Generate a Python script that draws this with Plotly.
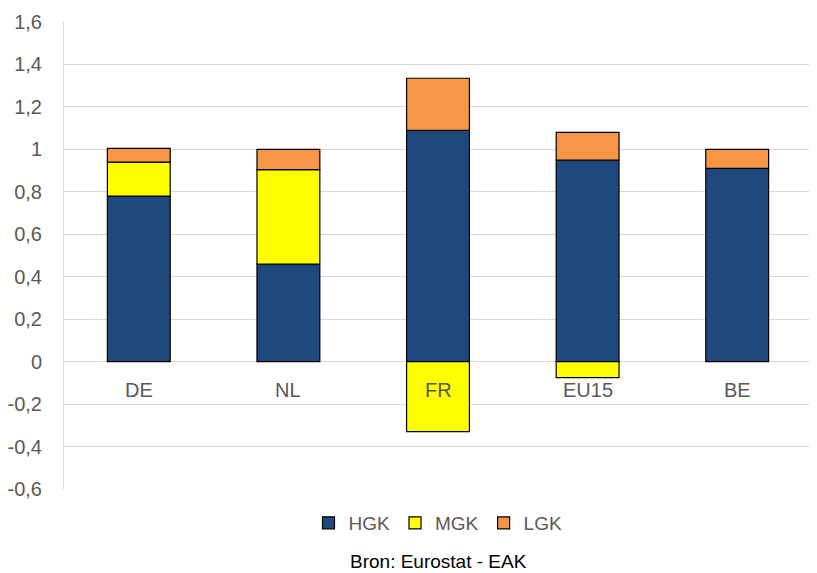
import plotly.graph_objects as go

categories = ["DE", "NL", "FR", "EU15", "BE"]
hgk = [0.78, 0.46, 1.09, 0.95, 0.91]
mgk = [0.16, 0.445, -0.33, -0.075, 0.0]
lgk = [0.065, 0.095, 0.245, 0.13, 0.09]
y_ticks = [-0.6, -0.4, -0.2, 0, 0.2, 0.4, 0.6, 0.8, 1, 1.2, 1.4, 1.6]
y_tick_labels = ["-0,6", "-0,4", "-0,2", "0", "0,2", "0,4", "0,6", "0,8", "1", "1,2", "1,4", "1,6"]

font_family = "Liberation Sans, Arial, sans-serif"
grey = "#595959"

fig = go.Figure()
for name, vals, col in [("HGK", hgk, "#1F497D"), ("MGK", mgk, "#FFFF00"), ("LGK", lgk, "#F79646")]:
    fig.add_trace(go.Bar(x=categories, y=vals, name=name, marker_color=col,
                         marker_line_color="#000000", marker_line_width=1.2, width=0.42))

for c in categories:
    fig.add_annotation(x=c, y=0, yref="y", xref="x", text=c, showarrow=False,
                       yshift=-28, font=dict(family=font_family, size=20, color=grey))

fig.add_annotation(x=0.5, xref="paper", y=-0.156, yref="paper", yanchor="middle",
                   text="Bron: Eurostat - EAK",
                   showarrow=False, font=dict(family=font_family, size=19, color="#000000"))

fig.update_layout(
    barmode="relative",
    width=817, height=573,
    margin=dict(l=56, r=13, t=14, b=92),
    paper_bgcolor="white", plot_bgcolor="white",
    separators=",.",
    font=dict(family=font_family, size=19, color=grey),
    legend=dict(orientation="h", x=0.5, xanchor="center", y=-0.032, yanchor="top",
                font=dict(size=19, color=grey), itemwidth=30, traceorder="normal"),
    xaxis=dict(showticklabels=False, showline=False, showgrid=False, zeroline=False,
               automargin=False),
    yaxis=dict(range=[-0.6, 1.6], tickvals=y_ticks, ticktext=y_tick_labels,
               showgrid=True, automargin=False,
               gridcolor="#D9D9D9", gridwidth=1, zeroline=True, zerolinecolor="#D9D9D9",
               zerolinewidth=1, showline=True, linecolor="#D9D9D9", linewidth=1,
               ticks="", ticklabelstandoff=17, tickfont=dict(size=20, color=grey)),
)

fig.write_html("out.html")
